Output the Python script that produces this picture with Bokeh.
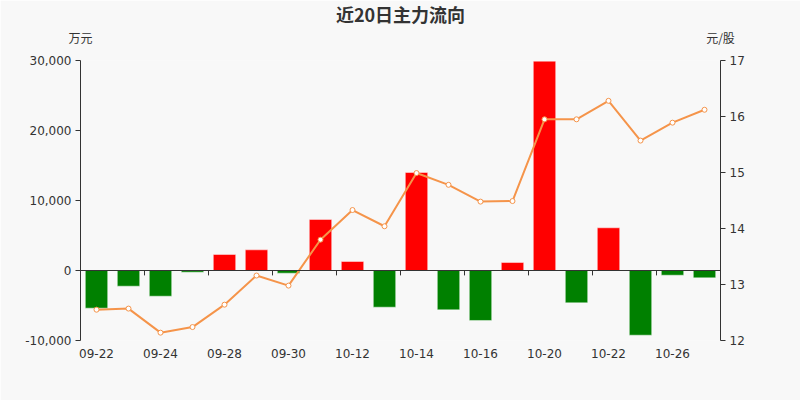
from bokeh.plotting import figure
from bokeh.models import (Range1d, LinearAxis, FixedTicker, NumeralTickFormatter,
                          Span, ColumnDataSource)
from bokeh.embed import file_html
from bokeh.resources import INLINE

dates = ["09-22", "09-23", "09-24", "09-25", "09-28", "09-29", "09-30", "10-09",
         "10-12", "10-13", "10-14", "10-15", "10-16", "10-19", "10-20", "10-21",
         "10-22", "10-23", "10-26", "10-27"]
flow = [-5380, -2240, -3670, -240, 2290, 2950, -380, 7290, 1290, -5240,
        14000, -5620, -7140, 1140, 29900, -4620, 6100, -9240, -670, -1050]
price = [12.55, 12.57, 12.14, 12.24, 12.64, 13.16, 12.98, 13.80, 14.33, 14.04,
         14.99, 14.78, 14.48, 14.49, 15.95, 15.95, 16.28, 15.57, 15.89, 16.12]
left_ticks = [-10000, 0, 10000, 20000, 30000]
right_ticks = [12, 13, 14, 15, 16, 17]
title_text = "近20日主力流向"
left_unit = "万元"
right_unit = "元/股"

n = len(dates)
xs = [i + 0.5 for i in range(n)]
colors = ["#ff0000" if v >= 0 else "#008000" for v in flow]
src = ColumnDataSource(dict(x=xs, top=flow, color=colors, price=price))

BG = "#f8f8f8"
TXT = "#333333"
p = figure(width=800, height=400, output_backend="svg", toolbar_location=None,
           x_range=Range1d(0, n), y_range=Range1d(-10000, 30000),
           min_border_left=80, min_border_right=80, min_border_top=0, min_border_bottom=60,
           background_fill_color=BG, border_fill_color=BG, outline_line_color=None,
           title=title_text)
p.grid.visible = False
p.title.align = "center"
p.title.text_font = "Noto Sans CJK SC"
p.title.text_font_size = "18px"
p.title.text_font_style = "bold"
p.title.text_color = TXT
p.title.text_line_height = 0.9
p.title.standoff = -3
p.title.offset = -2

p.vbar(x="x", top="top", bottom=0, width=0.7, fill_color="color",
       line_color="white", line_alpha=0.45, line_width=1, source=src)

p.add_layout(Span(location=0, dimension="width", line_color=TXT, line_width=1))
# category tick marks on the zero line
tick_x = [float(i) for i in range(2, n, 2)]
p.segment(x0=tick_x, x1=tick_x, y0=[0] * len(tick_x), y1=[-700] * len(tick_x),
          line_color=TXT, line_width=1)

p.extra_y_ranges = {"price": Range1d(12, 17)}
p.line(x="x", y="price", y_range_name="price", line_color="#f5944a", line_width=2, source=src)
p.scatter(x="x", y="price", y_range_name="price", size=5, marker="circle",
          fill_color="white", line_color="#f5944a", line_width=1, source=src)

# x axis
xa = p.xaxis[0]
xa.ticker = FixedTicker(ticks=[xs[i] for i in range(0, n, 2)])
xa.major_label_overrides = {xs[i]: dates[i] for i in range(0, n, 2)}
xa.axis_line_color = None
xa.major_tick_line_color = None
xa.minor_tick_line_color = None
xa.major_label_standoff = 2
xa.major_label_text_font = "DejaVu Sans"
xa.major_label_text_font_size = "12px"
xa.major_label_text_color = TXT

# unit names, shown above the two value axes
ua = LinearAxis(ticker=FixedTicker(ticks=[0, n]),
                major_label_overrides={0: left_unit, n: right_unit})
ua.axis_line_color = None
ua.major_tick_line_color = None
ua.major_tick_in = 0
ua.major_tick_out = 0
ua.minor_tick_line_color = None
ua.minor_tick_in = 0
ua.minor_tick_out = 0
ua.major_label_standoff = 15
ua.major_label_text_font = "Noto Sans CJK SC"
ua.major_label_text_font_size = "12px"
ua.major_label_text_color = TXT
p.add_layout(ua, "above")

# left axis
ya = p.yaxis[0]
ya.ticker = FixedTicker(ticks=left_ticks)
ya.formatter = NumeralTickFormatter(format="0,0")

ra = LinearAxis(y_range_name="price", ticker=FixedTicker(ticks=right_ticks))
p.add_layout(ra, "right")
for ax in [ya, ra]:
    ax.axis_line_color = TXT
    ax.major_tick_line_color = TXT
    ax.major_tick_in = 0
    ax.major_tick_out = 5
    ax.minor_tick_line_color = None
    ax.major_label_standoff = 4
    ax.major_label_text_font = "DejaVu Sans"
    ax.major_label_text_font_size = "12px"
    ax.major_label_text_color = TXT

open("out.html", "w").write(file_html(p, INLINE))
